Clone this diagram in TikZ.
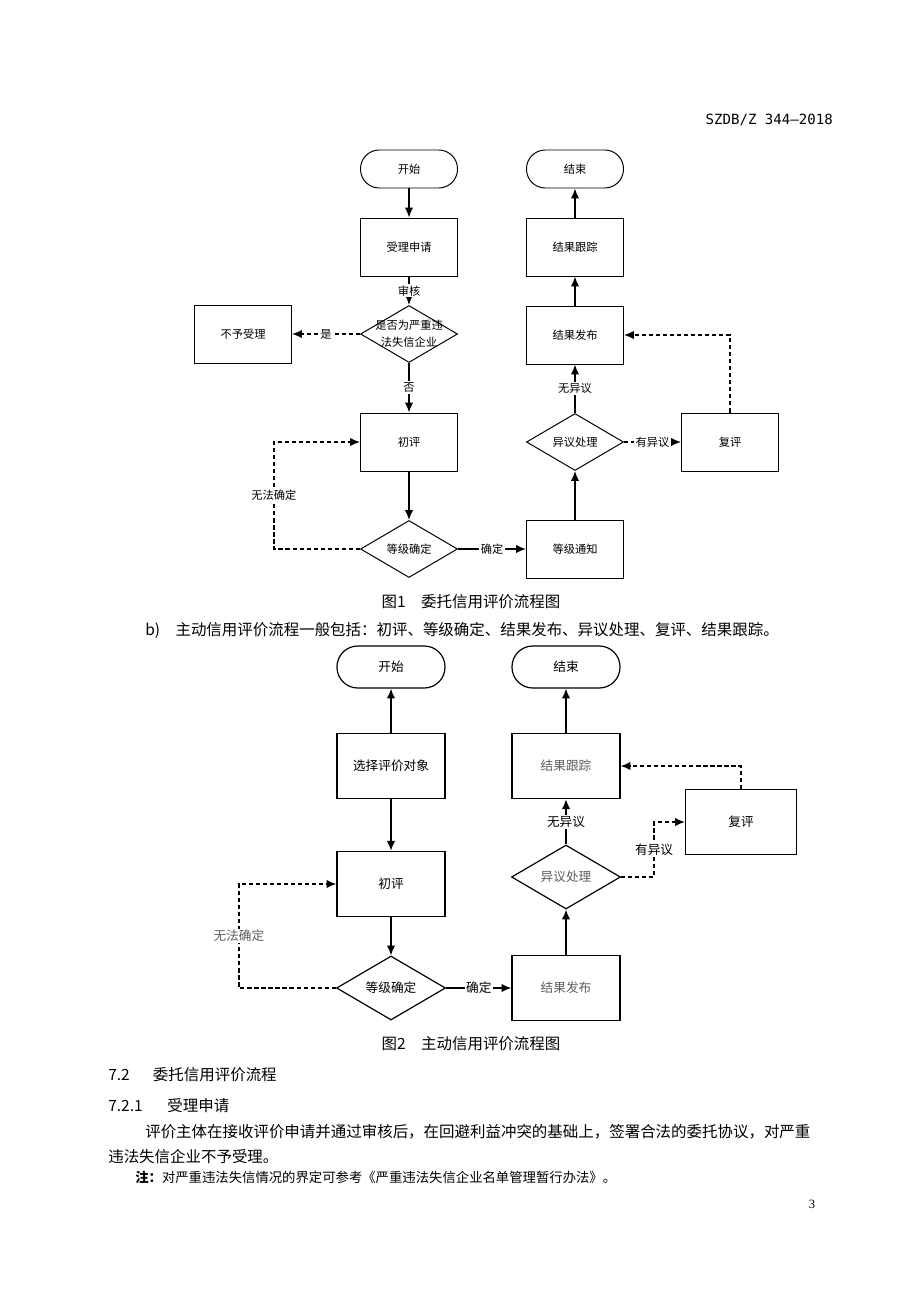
\documentclass[tikz,border=0pt]{standalone}
\usepackage{fontspec}
\setmainfont{Noto Sans CJK SC}
\newfontfamily\idfont{DejaVu Sans Mono}
\newfontfamily\numfont{Liberation Serif}
\usetikzlibrary{shapes.geometric,arrows.meta}
\definecolor{txtgray}{RGB}{95,95,95}

\begin{document}
\begin{tikzpicture}[
    x=0.025cm, y=-0.025cm,
    >={Latex[length=7pt,width=6pt]},
    box/.style={draw, rectangle, line width=0.7pt, minimum width=2.425cm, minimum height=1.45cm, font=\fontsize{8}{10}\selectfont},
    term/.style={box, minimum height=0.95cm, rounded corners=0.47cm},
    dia/.style={draw, diamond, line width=0.7pt, inner sep=0pt, minimum width=2.425cm, minimum height=1.425cm, font=\fontsize{8}{10}\selectfont},
    box2/.style={box, line width=0.85pt, minimum width=2.7cm, minimum height=1.63cm, font=\fontsize{9}{11}\selectfont},
    term2/.style={box2, minimum height=1.05cm, rounded corners=0.52cm},
    dia2/.style={dia, line width=0.85pt, minimum width=2.725cm, minimum height=1.6cm, font=\fontsize{9}{11}\selectfont},
    lbl/.style={fill=white, inner sep=1pt, font=\fontsize{8}{10}\selectfont},
    lbl2/.style={lbl, font=\fontsize{9}{11}\selectfont},
    flow/.style={->, line width=1.1pt},
    back/.style={->, line width=1.1pt, dash pattern=on 3pt off 2pt},
    body/.style={anchor=west, inner sep=0pt, font=\fontsize{11}{13}\selectfont}
]
    \useasboundingbox[fill=white] (0,0) rectangle (920,1302);

    % Page head
    \node[anchor=east, inner sep=0pt, font=\idfont\fontsize{10}{12}\selectfont] (docid) at (833,120) {SZDB/Z 344—2018};

    % Figure 1
    \node[term] (start1) at (409,169) {开始};
    \node[term] (end1) at (575,169) {结束};
    \node[box] (apply) at (409,247) {受理申请};
    \node[dia, label={[align=center, font=\fontsize{8}{12}\selectfont]center:是否为严重违\\法失信企业}] (check) at (409,334) {};
    \node[box] (reject) at (243,334) {不予受理};
    \node[box] (first1) at (409,442) {初评};
    \node[dia] (grade1) at (409,549) {等级确定};
    \node[box] (notify) at (575,549) {等级通知};
    \node[dia] (object1) at (575,442) {异议处理};
    \node[box] (publish1) at (575,335) {结果发布};
    \node[box] (review1) at (730,442) {复评};
    \node[box] (track1) at (575,247) {结果跟踪};

    \draw[flow] (start1) -- (apply);
    \draw[flow] (apply) -- node[lbl]{审核} (check);
    \draw[back] (check) -- node[lbl]{是} (reject);
    \draw[flow] (check) -- node[lbl]{否} (first1);
    \draw[flow] (first1) -- (grade1);
    \draw[back] (grade1.west) -- ++(-86,0) |- node[lbl, pos=0.25]{无法确定} (first1.west);
    \draw[flow] (grade1) -- node[lbl]{确定} (notify);
    \draw[flow] (notify) -- (object1);
    \draw[flow] (object1) -- node[lbl]{无异议} (publish1);
    \draw[back] (object1) -- node[lbl]{有异议} (review1);
    \draw[back] (review1.north) |- (publish1.east);
    \draw[flow] (publish1) -- (track1);
    \draw[flow] (track1) -- (end1);

    \node[font=\fontsize{11}{13}\selectfont] (cap1) at (471,602) {图1\hspace{1em}委托信用评价流程图};
    \node[body] (itemb) at (145,630) {b)\hspace{1em}主动信用评价流程一般包括：初评、等级确定、结果发布、异议处理、复评、结果跟踪。};

    % Figure 2
    \node[term2] (start2) at (391,667) {开始};
    \node[term2] (end2) at (566,667) {结束};
    \node[box2] (select) at (391,766) {选择评价对象};
    \node[box2] (first2) at (391,884) {初评};
    \node[dia2] (grade2) at (391,988) {等级确定};
    \node[box2, text=txtgray] (publish2) at (566,988) {结果发布};
    \node[dia2, text=txtgray] (object2) at (566,877) {异议处理};
    \node[box2, text=txtgray] (track2) at (566,766) {结果跟踪};
    \node[box2, minimum width=2.775cm] (review2) at (741,822) {复评};

    \draw[flow] (select) -- (start2);
    \draw[flow] (select) -- (first2);
    \draw[flow] (first2) -- (grade2);
    \draw[back] (grade2.west) -- ++(-97,0) |- node[lbl2, pos=0.25, text=txtgray]{无法确定} (first2.west);
    \draw[flow] (grade2) -- node[lbl2]{确定} (publish2);
    \draw[flow] (publish2) -- (object2);
    \draw[flow] (object2) -- node[lbl2]{无异议} (track2);
    \draw[back] (object2.east) -- ++(33,0) |- node[lbl2, pos=0.25]{有异议} (review2.west);
    \draw[back] (review2.north) |- (track2.east);
    \draw[flow] (track2) -- (end2);

    \node[font=\fontsize{11}{13}\selectfont] (cap2) at (471,1044) {图2\hspace{1em}主动信用评价流程图};

    % Text below
    \node[body] (sec72) at (108,1075) {7.2\hspace{1.5em}委托信用评价流程};
    \node[body] (sec721) at (108,1106) {7.2.1\hspace{1.6em}受理申请};
    \node[body] (para1) at (145,1132) {评价主体在接收评价申请并通过审核后，在回避利益冲突的基础上，签署合法的委托协议，对严重};
    \node[body] (para2) at (108,1157) {违法失信企业不予受理。};
    \node[body, font=\fontsize{9.5}{11}\selectfont] (note) at (135,1177) {\textbf{注：}对严重违法失信情况的界定可参考《严重违法失信企业名单管理暂行办法》。};
    \node[font=\numfont\fontsize{9}{11}\selectfont] (pageno) at (812,1204) {3};
\end{tikzpicture}
\end{document}
